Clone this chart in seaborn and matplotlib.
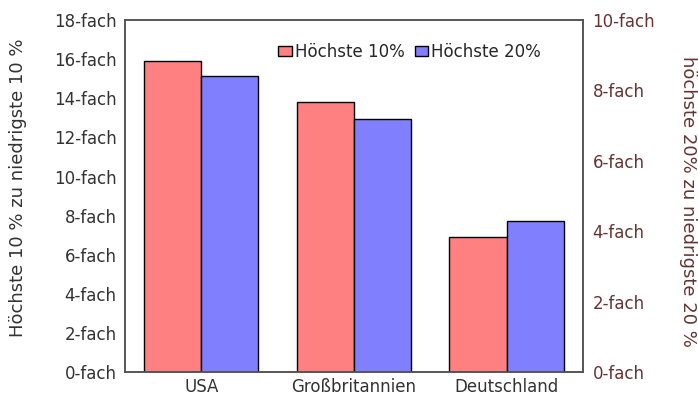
import seaborn as sns
import pandas as pd
import numpy as np
import matplotlib.pyplot as plt
from matplotlib.patches import Patch

countries = ["USA", "Großbritannien", "Deutschland"]
top10 = [15.9, 13.8, 6.9]   # left axis
top20 = [8.4, 7.2, 4.3]     # right axis
series = ["Höchste 10%", "Höchste 20%"]
colors = {"Höchste 10%": "#ff8080", "Höchste 20%": "#8080ff"}

df_left = pd.DataFrame({"land": countries, "wert": top10, "serie": series[0]})
df_right = pd.DataFrame({"land": countries, "wert": top20, "serie": series[1]})

sns.set_style("white")
plt.rcParams['font.family'] = ['DejaVu Sans']
fs = 12

fig = plt.figure(figsize=(6.98, 4.01), dpi=100)
ax = fig.add_axes([0.179, 0.072, 0.656, 0.878])
ax2 = ax.twinx()

for a, d in ((ax, df_left), (ax2, df_right)):
    sns.barplot(data=d, x="land", y="wert", hue="serie", hue_order=series,
                palette=colors, order=countries, width=0.75, dodge=True,
                saturation=1, ax=a, edgecolor="black", linewidth=1, legend=False)

ax.set_ylim(0, 18)
ax2.set_ylim(0, 10)
ax.set_xlim(-0.5, 2.5)
ax.set_yticks(np.arange(0, 19, 2))
ax.set_yticklabels([f"{v}-fach" for v in range(0, 19, 2)], fontsize=fs, color="#333333")
ax2.set_yticks(np.arange(0, 11, 2))
ax2.set_yticklabels([f"{v}-fach" for v in range(0, 11, 2)], fontsize=fs, color="#663333")
ax.tick_params(axis="x", labelsize=fs, labelcolor="#333333", length=0, pad=4)
ax.tick_params(axis="y", length=0, pad=6)
ax2.tick_params(axis="y", length=0, pad=7)
ax.set_xlabel("")
ax2.set_xlabel("")
ax.set_ylabel("Höchste 10 % zu niedrigste 10 %", fontsize=13, color="#333333", va="center")
ax.yaxis.set_label_coords(-0.234, 0.523)
ax2.set_ylabel("höchste 20% zu niedrigste 20 %", fontsize=13, color="#663333",
               rotation=270, va="center")
ax2.yaxis.set_label_coords(1.229, 0.486)

for a in (ax, ax2):
    for s in a.spines.values():
        s.set_color("#555555")
        s.set_linewidth(1.2)

handles = [Patch(facecolor=colors[s], edgecolor="black", label=s) for s in series]
ax2.legend(handles=handles, loc="center", bbox_to_anchor=(0.622, 0.909), ncol=2,
           frameon=False, fontsize=fs, handlelength=0.8, handleheight=0.5,
           handletextpad=0.2, columnspacing=0.6, borderpad=0)

fig.savefig("out.png", dpi=100)
